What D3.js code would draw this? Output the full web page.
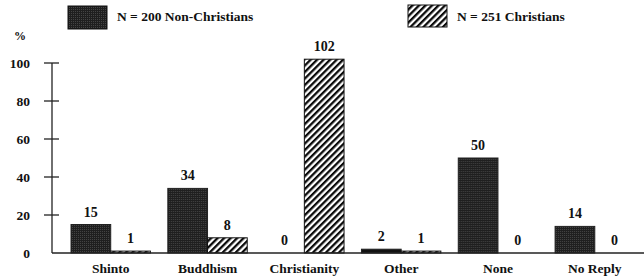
<!DOCTYPE html>
<html>
<head>
<meta charset="utf-8">
<script src="https://cdn.jsdelivr.net/npm/d3@7"></script>
<style>
  body { margin: 0; background: #fff; }
</style>
</head>
<body>
<div id="chart"></div>
<script>
// data
var categories = ["Shinto", "Buddhism", "Christianity", "Other", "None", "No Reply"];
var nonChristians = [15, 34, 0, 2, 50, 14];
var christians = [1, 8, 102, 1, 0, 0];
var yTicks = [0, 20, 40, 60, 80, 100];
var seriesNames = ["N = 200 Non-Christians", "N = 251 Christians"];

var W = 644, H = 278;
var axisX = 52;

var svg = d3.select("#chart").append("svg")
    .attr("width", W)
    .attr("height", H);

var defs = svg.append("defs");

// stippled dark fill
var dots = defs.append("pattern")
    .attr("id", "dots")
    .attr("patternUnits", "userSpaceOnUse")
    .attr("width", 2)
    .attr("height", 2);
dots.append("rect").attr("width", 2).attr("height", 2).attr("fill", "#1f1f1f");
dots.append("rect").attr("x", 1).attr("y", 1).attr("width", 1).attr("height", 1).attr("fill", "#444");

// diagonal hatch
var hatch = defs.append("pattern")
    .attr("id", "hatch")
    .attr("patternUnits", "userSpaceOnUse")
    .attr("width", 4.6)
    .attr("height", 8)
    .attr("patternTransform", "rotate(45)");
hatch.append("rect").attr("width", 4.6).attr("height", 8).attr("fill", "#fff");
hatch.append("rect").attr("x", 0).attr("width", 2.3).attr("height", 8).attr("fill", "#0a0a0a");

var y = d3.scaleLinear().domain([0, 100]).range([253, 63]);

var x0 = d3.scaleBand()
    .domain(categories)
    .range([56.5, 649])
    .paddingInner(0.18)
    .paddingOuter(0.15);

var x1 = d3.scaleBand()
    .domain([0, 1])
    .range([0, x0.bandwidth()]);

function label(sel, size) {
    return sel.attr("font-family", "Liberation Serif")
        .attr("font-weight", "bold")
        .attr("font-size", size)
        .attr("fill", "#111");
}

// y axis
var yAxis = d3.axisLeft(y)
    .tickValues(yTicks)
    .tickSize(0)
    .tickPadding(22);

var gy = svg.append("g")
    .attr("transform", "translate(" + axisX + ",0)")
    .call(yAxis);
gy.select(".domain").remove();
label(gy, 13.5);
label(gy.selectAll("text"), 13.5);

svg.append("line")
    .attr("x1", axisX).attr("x2", axisX)
    .attr("y1", y(100)).attr("y2", y(0))
    .attr("stroke", "#222").attr("stroke-width", 1.3);

svg.selectAll(".ytick")
    .data(yTicks.filter(function(d){ return d > 0; }))
    .enter().append("line")
    .attr("x1", axisX - 8).attr("x2", axisX + 7)
    .attr("y1", function(d){ return y(d); })
    .attr("y2", function(d){ return y(d); })
    .attr("stroke", "#222").attr("stroke-width", 1.3);

label(svg.append("text")
    .attr("x", 14).attr("y", 40)
    .text("%"), 12);

// bars
var groups = svg.selectAll(".grp")
    .data(categories)
    .enter().append("g")
    .attr("transform", function(d){ return "translate(" + x0(d) + ",0)"; });

var seriesData = [nonChristians, christians];
var fills = ["url(#dots)", "url(#hatch)"];

groups.each(function(cat, i) {
    var g = d3.select(this);
    [0, 1].forEach(function(s) {
        var v = seriesData[s][i];
        if (v > 0) {
            var fill = fills[s];
            if (s === 0 && v < 4) fill = "#111";
            g.append("rect")
                .attr("x", x1(s))
                .attr("y", y(v))
                .attr("width", x1.bandwidth())
                .attr("height", y(0) - y(v))
                .attr("fill", fill)
                .attr("stroke", s === 1 ? "#111" : "#222")
                .attr("stroke-width", 1);
        }
        label(g.append("text")
            .attr("x", x1(s) + x1.bandwidth() / 2)
            .attr("y", y(v) - 8)
            .attr("text-anchor", "middle")
            .text(v), 14);
    });
});

// baseline
svg.append("line")
    .attr("x1", axisX).attr("x2", W)
    .attr("y1", y(0)).attr("y2", y(0))
    .attr("stroke", "#222").attr("stroke-width", 1.3);

// category labels
label(svg.selectAll(".cat")
    .data(categories)
    .enter().append("text")
    .attr("x", function(d){ return x0(d) + x0.bandwidth() / 2; })
    .attr("y", 273)
    .attr("text-anchor", "middle")
    .text(function(d){ return d; }), 13.5);

// legend
var legendPos = [[68, 6, 39, 23], [408, 5, 39, 22]];
seriesNames.forEach(function(name, s) {
    var p = legendPos[s];
    svg.append("rect")
        .attr("x", p[0]).attr("y", p[1])
        .attr("width", p[2]).attr("height", p[3])
        .attr("fill", fills[s])
        .attr("stroke", "#111").attr("stroke-width", 1);
    label(svg.append("text")
        .attr("x", p[0] + p[2] + 10)
        .attr("y", 21)
        .text(name), 13.5);
});
</script>
</body>
</html>
